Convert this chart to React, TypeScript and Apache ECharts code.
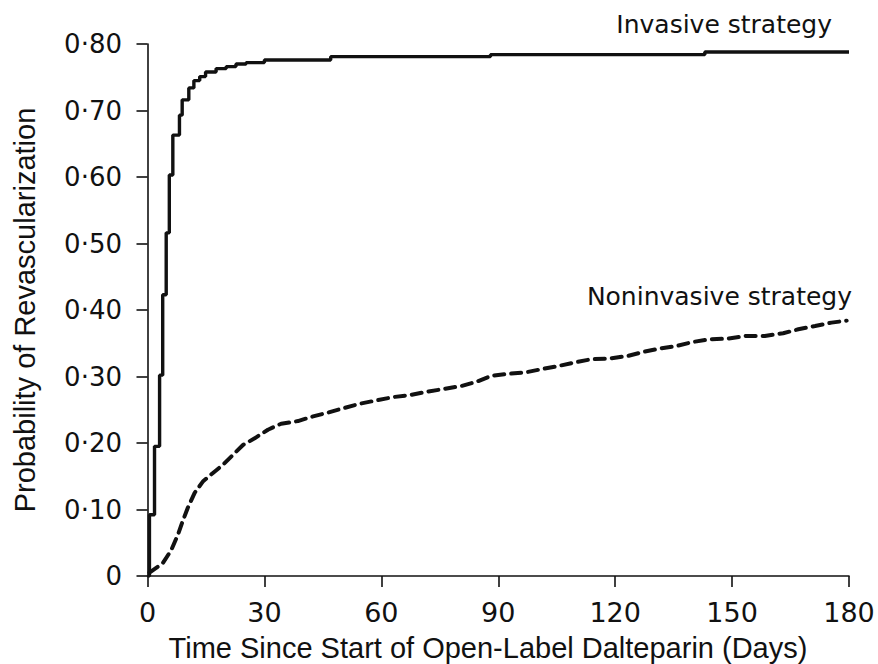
import React, { useEffect, useRef } from "react";
import * as echarts from "echarts";

const xTicks = [0, 30, 60, 90, 120, 150, 180];
const yTicks = [0, 0.1, 0.2, 0.3, 0.4, 0.5, 0.6, 0.7, 0.8];

// Kaplan-Meier style cumulative probability (days, probability)
const invasiveDays = [0, 0.5, 1.8, 3.1, 3.9, 4.8, 5.6, 6.5, 8.2, 8.9, 10.6, 11.9, 13.4, 14.9, 17.6, 20.2, 22.7, 25.3, 30, 47, 88, 143, 180];
const invasiveProb = [0, 0.092, 0.195, 0.302, 0.423, 0.516, 0.603, 0.663, 0.693, 0.716, 0.734, 0.745, 0.751, 0.758, 0.763, 0.766, 0.77, 0.772, 0.776, 0.781, 0.784, 0.788, 0.788];

const noninvasiveDays = [0.5, 3.9, 6.1, 7.8, 9.0, 10.3, 12.1, 14.2, 16.8, 19.3, 21.9, 24.5, 27.5, 30.9, 34.3, 38.6, 42.5, 46.5, 50.1, 54.4, 58.7, 63, 67.3, 71.6, 75.8, 80.7, 84.4, 88.2, 92.5, 96.8, 101.1, 105.6, 109.5, 113.9, 118.6, 123.3, 127.2, 131.5, 135.8, 140, 144.3, 149, 153.7, 158.4, 163.1, 167, 171.3, 175.5, 179.4];
const noninvasiveProb = [0.005, 0.019, 0.039, 0.062, 0.082, 0.102, 0.125, 0.142, 0.155, 0.167, 0.182, 0.197, 0.207, 0.22, 0.229, 0.233, 0.24, 0.246, 0.252, 0.259, 0.264, 0.269, 0.272, 0.277, 0.281, 0.286, 0.292, 0.301, 0.304, 0.306, 0.311, 0.316, 0.321, 0.326, 0.327, 0.331, 0.337, 0.342, 0.346, 0.352, 0.356, 0.357, 0.361, 0.361, 0.365, 0.371, 0.376, 0.381, 0.384];

const seriesNames = ["Invasive strategy", "Noninvasive strategy"];
const xTitle = "Time Since Start of Open-Label Dalteparin (Days)";
const yTitle = "Probability of Revascularization";

const INK = "#111111";
const TITLE_FONT = "Liberation Sans, Arial, sans-serif";
const WIDE_FONT = "DejaVu Sans, sans-serif";

export default function App() {
  const ref = useRef<HTMLDivElement>(null);
  useEffect(() => {
    document.body.style.margin = "0";
    if (!ref.current) return;
    const chart = echarts.init(ref.current, null, { renderer: "svg" });
    const fmtY = (v: number) => (Math.abs(v) < 1e-9 ? "0" : v.toFixed(2).replace(".", "·"));
    chart.setOption({
      animation: false,
      backgroundColor: "#ffffff",
      grid: { left: 147.5, right: 29, top: 44, bottom: 88, containLabel: false },
      xAxis: {
        type: "value",
        min: xTicks[0],
        max: xTicks[xTicks.length - 1],
        interval: 30,
        offset: 8,
        axisLine: { show: true, lineStyle: { color: INK, width: 1.6 } },
        axisTick: { show: true, inside: false, length: 11, lineStyle: { color: INK, width: 1.6 } },
        axisLabel: { fontFamily: WIDE_FONT, fontSize: 27, color: INK, margin: 15, showMaxLabel: true, showMinLabel: true },
        splitLine: { show: false },
      },
      yAxis: {
        type: "value",
        min: yTicks[0],
        max: yTicks[yTicks.length - 1],
        interval: 0.1,
        offset: 8.5,
        name: yTitle,
        nameLocation: "middle",
        nameGap: 100,
        nameRotate: 90,
        nameTextStyle: { fontFamily: TITLE_FONT, fontSize: 29, color: INK },
        axisLine: { show: true, lineStyle: { color: INK, width: 1.6 } },
        axisTick: { show: true, inside: false, length: 11, lineStyle: { color: INK, width: 1.6 } },
        axisLabel: { fontFamily: WIDE_FONT, fontSize: 26, color: INK, margin: 17, formatter: fmtY },
        splitLine: { show: false },
      },
      series: [
        {
          name: seriesNames[0],
          type: "line",
          step: "end",
          showSymbol: false,
          data: invasiveDays.map((d, i) => [d, invasiveProb[i]]),
          lineStyle: { color: INK, width: 3.4 },
        },
        {
          name: seriesNames[1],
          type: "line",
          showSymbol: false,
          data: noninvasiveDays.map((d, i) => [d, noninvasiveProb[i]]),
          lineStyle: { color: INK, width: 4, type: [10, 7], cap: "round" },
        },
      ],
      graphic: [
        {
          type: "text",
          x: 832,
          y: 24,
          style: { text: seriesNames[0], fontFamily: WIDE_FONT, fontSize: 25, fill: INK, align: "right", verticalAlign: "middle" },
        },
        {
          type: "text",
          x: 852,
          y: 296,
          style: { text: seriesNames[1], fontFamily: WIDE_FONT, fontSize: 25, fill: INK, align: "right", verticalAlign: "middle" },
        },
        {
          type: "text",
          x: 488,
          y: 648,
          style: { text: xTitle, fontFamily: TITLE_FONT, fontSize: 29, fill: INK, align: "center", verticalAlign: "middle" },
        },
      ],
    });
    return () => chart.dispose();
  }, []);
  return <div ref={ref} style={{ width: 878, height: 664 }} />;
}
